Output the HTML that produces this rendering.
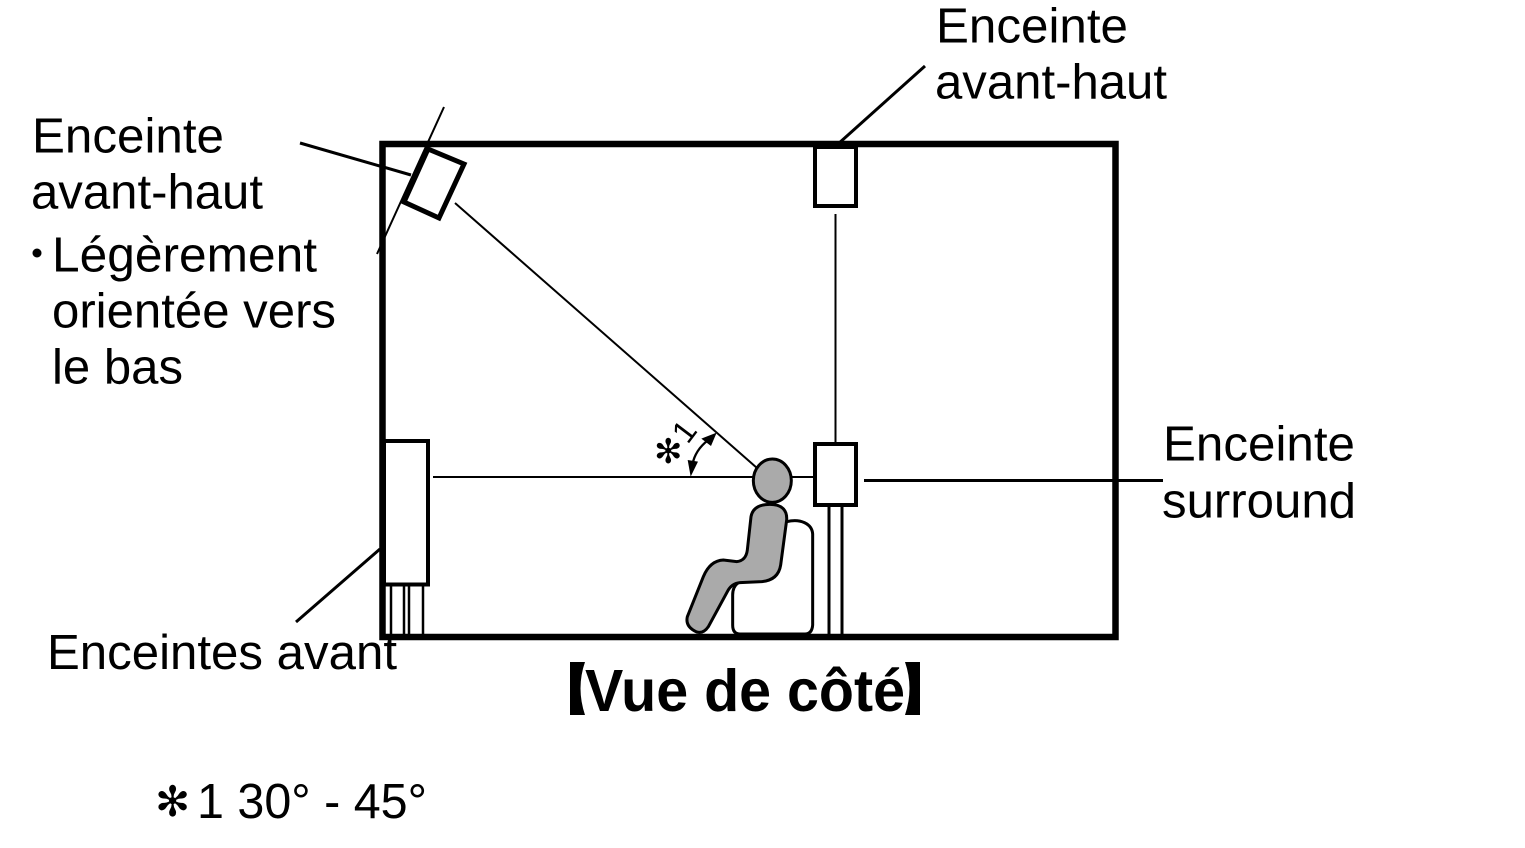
<!DOCTYPE html>
<html><head><meta charset="utf-8"><style>
html,body{margin:0;padding:0;background:#fff;width:1525px;height:848px;overflow:hidden}
svg{display:block}
text{font-family:"Liberation Sans",sans-serif;font-size:49.500px;fill:#000}
</style></head><body>
<svg width="1525" height="848" viewBox="0 0 1525 848" xmlns="http://www.w3.org/2000/svg">
<rect width="1525" height="848" fill="#fff"/>
<g fill="none" stroke="#000">
<line x1="444" y1="107" x2="377" y2="254" stroke-width="2"/>
<rect x="382.500" y="144" width="733" height="493" stroke-width="6.500"/>
<polygon points="428,149 464,164 439,218 404,202" fill="#fff" stroke-width="5"/>
<line x1="300" y1="143" x2="411" y2="175" stroke-width="3"/>
<line x1="455" y1="203" x2="757" y2="468" stroke-width="2"/>
<line x1="925" y1="66" x2="838" y2="144" stroke-width="3"/>
<rect x="815" y="147" width="41" height="59" stroke-width="4"/>
<line x1="835.500" y1="214" x2="835.500" y2="443" stroke-width="2"/>
<line x1="433" y1="477" x2="815" y2="477" stroke-width="2"/>
<line x1="864" y1="480.500" x2="1163" y2="480.500" stroke-width="3"/>
<rect x="815" y="444" width="41" height="61" fill="#fff" stroke-width="4"/>
<line x1="829" y1="507" x2="829" y2="634" stroke-width="3"/>
<line x1="842" y1="507" x2="842" y2="634" stroke-width="3"/>
<rect x="384" y="441" width="44" height="143.500" fill="#fff" stroke-width="4"/>
<line x1="391" y1="586" x2="391" y2="634" stroke-width="2.500"/>
<line x1="404" y1="586" x2="404" y2="634" stroke-width="2.500"/>
<line x1="409" y1="586" x2="409" y2="634" stroke-width="2.500"/>
<line x1="423" y1="586" x2="423" y2="634" stroke-width="2.500"/>
<line x1="296" y1="622" x2="380" y2="549" stroke-width="3"/>
</g>
<g transform="translate(640 410) scale(.33333)">
<path d="M440 335C480 325 516 340 518 372L518 645Q516 672 495 672L300 672Q278 672 278 645L278 555Q278 530 295 518" fill="#fff" stroke="#000" stroke-width="9"/>
<path d="M415 485Q405 510 370 514" fill="none" stroke="#000" stroke-width="8"/>
<ellipse cx="397" cy="212" rx="57" ry="65" fill="#aaa" stroke="#000" stroke-width="9"/>
<path d="M333 320C338 292 362 283 390 283C425 283 442 300 440 330L422 465Q415 510 365 515L300 518Q275 520 262 545L205 650Q190 672 170 666Q135 650 142 620L190 500Q210 452 250 450L290 455Q318 452 322 420Z" fill="#aaa" stroke="#000" stroke-width="9"/>
<path d="M157 165Q165 120 205 90" fill="none" stroke="#000" stroke-width="7"/>
<polygon points="230,68 213,108 184,86" fill="#000"/>
<polygon points="152,200 143,150 174,155" fill="#000"/>
</g>
<text x="936" y="42.500" textLength="192" lengthAdjust="spacingAndGlyphs">Enceinte</text>
<text x="935" y="98.500" textLength="232" lengthAdjust="spacingAndGlyphs">avant-haut</text>
<text x="32" y="152.500" textLength="192" lengthAdjust="spacingAndGlyphs">Enceinte</text>
<text x="31" y="208.500" textLength="232" lengthAdjust="spacingAndGlyphs">avant-haut</text>
<circle cx="37" cy="253" r="4.500" fill="#000"/>
<text x="52" y="271.500" textLength="265" lengthAdjust="spacingAndGlyphs">Légèrement</text>
<text x="52" y="327.500" textLength="284" lengthAdjust="spacingAndGlyphs">orientée vers</text>
<text x="52" y="383.500" textLength="131" lengthAdjust="spacingAndGlyphs">le bas</text>
<text x="1163" y="460.500" textLength="192" lengthAdjust="spacingAndGlyphs">Enceinte</text>
<text x="1162" y="517.500" textLength="194" lengthAdjust="spacingAndGlyphs">surround</text>
<text x="47" y="669" textLength="350" lengthAdjust="spacingAndGlyphs">Enceintes avant</text>
<text x="585" y="711" style="font-weight:bold;font-size:59px" textLength="320" lengthAdjust="spacingAndGlyphs">Vue de côté</text>
<path d="M570 662H585Q576 688 585 715H570Z" fill="#000"/>
<path d="M920 662H905Q914 688 905 715H920Z" fill="#000"/>
<text x="197" y="818" textLength="230" lengthAdjust="spacingAndGlyphs">1 30° - 45°</text>
<text x="155" y="816" style="font-family:'DejaVu Sans',sans-serif;font-size:42px">✻</text>
<text x="654" y="463" style="font-family:'DejaVu Sans',sans-serif;font-size:34px">✻</text>
<text transform="translate(693 438) rotate(-53)" text-anchor="middle" style="font-size:32px">1</text>
</svg>
</body></html>
